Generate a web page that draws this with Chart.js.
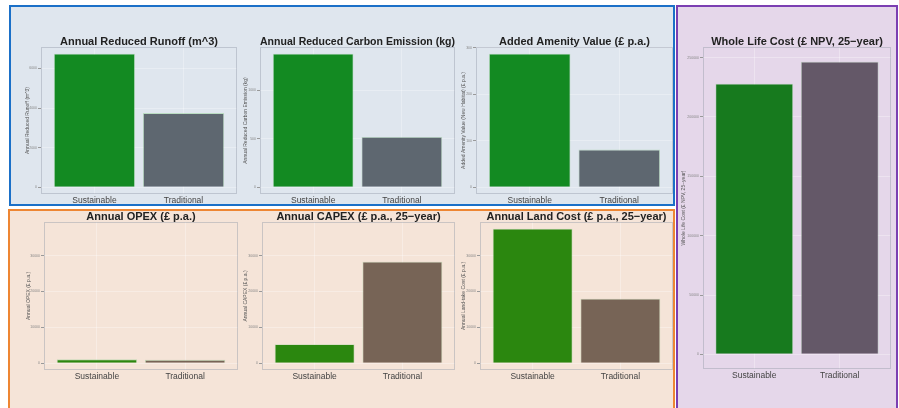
<!DOCTYPE html>
<html>
<head>
<meta charset="utf-8">
<script src="https://cdn.jsdelivr.net/npm/chart.js@4.4.1/dist/chart.umd.min.js"></script>
<style>
  body { margin: 0; background: #fff; }
  #page { position: relative; width: 899px; height: 408px; overflow: hidden; }
  .panel, .edge { position: absolute; box-sizing: border-box; }
  .edge { border: 2px solid; z-index: 3; }
  canvas { position: absolute; z-index: 2; }
</style>
</head>
<body>
<div id="page">
  <div class="panel" style="left:9px;top:5px;width:666px;height:201px;background:#dfe6ee"></div>
  <div class="panel" style="left:8px;top:209px;width:667px;height:210px;background:#f5e4d8"></div>
  <div class="panel" style="left:676px;top:5px;width:222px;height:420px;background:#e5d7ea"></div>
  <div class="edge" style="left:9px;top:5px;width:666px;height:201px;border-color:#1b70c8"></div>
  <div class="edge" style="left:8px;top:209px;width:667px;height:210px;border-color:#ee8633"></div>
  <div class="edge" style="left:676px;top:5px;width:222px;height:420px;border-color:#7b3fb2"></div>
</div>
<script>
const categories = ['Sustainable', 'Traditional'];

// benefits (blue panel)
const runoff = [6750, 3750];
const carbon = [1380, 520];
const amenity = [287, 81];
const runoffTicks = [0, 2000, 4000, 6000];
const carbonTicks = [0, 500, 1000];
const amenityTicks = [0, 100, 200, 300];

// costs (orange panel, shared y axis)
const opex = [1100, 950];
const capex = [5300, 28300];
const landCost = [37500, 18000];
const costTicks = [0, 10000, 20000, 30000];

// whole life (purple panel)
const wholeLife = [228000, 246600];
const wholeLifeTicks = [0, 50000, 100000, 150000, 200000, 250000];

const blueCols = ['#138a22', '#5e6770'];
const orangeCols = ['#2b870f', '#776456'];
const purpleCols = ['#177a1e', '#645868'];

Chart.defaults.font.family = '"Liberation Sans", Arial, sans-serif';

const framePlugin = {
  id: 'frame',
  beforeDatasetsDraw(chart) {
    const {ctx, chartArea: a} = chart;
    ctx.save();
    ctx.strokeStyle = 'rgba(150,158,170,0.45)';
    ctx.lineWidth = 1;
    ctx.strokeRect(a.left + 0.5, a.top + 0.5, a.width - 1, a.height - 1);
    ctx.restore();
  },
};

const page = document.getElementById('page');
const TITLE_H = 12;
const XAXIS_H = 14;

function addChart(c) {
  const canvas = document.createElement('canvas');
  const w = c.R - c.L + c.yW;
  const h = c.B - c.T + TITLE_H + XAXIS_H;
  canvas.width = w;
  canvas.height = h;
  canvas.style.left = (c.L - c.yW) + 'px';
  canvas.style.top = (c.T - TITLE_H) + 'px';
  page.append(canvas);

  const top = c.yTop || Math.max(...c.values);

  new Chart(canvas, {
    type: 'bar',
    data: {
      datasets: [{
        data: c.values.map((v, i) => ({x: i, y: v})),
        backgroundColor: c.colors,
        borderColor: 'rgba(150,210,150,0.5)',
        borderWidth: 0.8,
        barPercentage: 0.91,
        categoryPercentage: 1,
      }],
    },
    options: {
      responsive: false,
      animation: false,
      layout: {padding: 0},
      plugins: {
        legend: {display: false},
        tooltip: {enabled: false},
        title: {
          display: true,
          text: c.title,
          fullSize: false,
          color: '#222',
          font: {size: 11, weight: 'bold', lineHeight: 1},
          padding: {top: 1, bottom: 0},
        },
      },
      scales: {
        x: {
          type: 'linear',
          min: -0.6,
          max: 1.6,
          offset: false,
          afterBuildTicks: s => { s.ticks = [{value: 0}, {value: 1}]; },
          afterFit: s => { s.height = XAXIS_H; },
          ticks: {
            callback: v => categories[v],
            color: '#444',
            font: {size: 8.5},
            padding: 2,
            maxRotation: 0,
          },
          grid: {color: 'rgba(255,255,255,0.3)', offset: false, drawTicks: false},
          border: {display: false},
        },
        y: {
          min: -0.05 * top,
          max: 1.05 * top,
          afterBuildTicks: s => { s.ticks = c.ticks.map(v => ({value: v})); },
          afterFit: s => { s.width = c.yW; },
          ticks: {
            callback: v => String(v),
            color: '#888',
            font: {size: 3.5},
            padding: 1,
          },
          grid: {color: 'rgba(255,255,255,0.3)', tickColor: '#999', tickLength: 3},
          border: {display: false},
          title: {
            display: true,
            text: c.yTitle,
            color: '#555',
            font: {size: 5},
            padding: 0,
          },
        },
      },
    },
    plugins: [framePlugin],
  });
}

addChart({L: 41, R: 237, T: 47, B: 194, yW: 16, title: 'Annual Reduced Runoff (m^3)',
  yTitle: 'Annual Reduced Runoff (m^3)', values: runoff, colors: blueCols, ticks: runoffTicks});
addChart({L: 260, R: 455, T: 47, B: 194, yW: 17, title: 'Annual Reduced Carbon Emission (kg)',
  yTitle: 'Annual Reduced Carbon Emission (kg)', values: carbon, colors: blueCols, ticks: carbonTicks});
addChart({L: 476, R: 673, T: 47, B: 194, yW: 15, title: 'Added Amenity Value (£ p.a.)',
  yTitle: 'Added Amenity Value (New Habitat) (£ p.a.)', values: amenity, colors: blueCols, ticks: amenityTicks});

const costTop = Math.max(...opex, ...capex, ...landCost);
addChart({L: 44, R: 238, T: 222, B: 370, yW: 18, title: 'Annual OPEX (£ p.a.)',
  yTitle: 'Annual OPEX (£ p.a.)', values: opex, colors: orangeCols, ticks: costTicks, yTop: costTop});
addChart({L: 262, R: 455, T: 222, B: 370, yW: 19, title: 'Annual CAPEX (£ p.a., 25−year)',
  yTitle: 'Annual CAPEX (£ p.a.)', values: capex, colors: orangeCols, ticks: costTicks, yTop: costTop});
addChart({L: 480, R: 673, T: 222, B: 370, yW: 19, title: 'Annual Land Cost (£ p.a., 25−year)',
  yTitle: 'Annual Land-take Cost (£ p.a.)', values: landCost, colors: orangeCols, ticks: costTicks, yTop: costTop});

addChart({L: 703, R: 891, T: 47, B: 369, yW: 22, title: 'Whole Life Cost (£ NPV, 25−year)',
  yTitle: 'Whole Life Cost (£ NPV, 25−year)', values: wholeLife, colors: purpleCols, ticks: wholeLifeTicks});
</script>
</body>
</html>
